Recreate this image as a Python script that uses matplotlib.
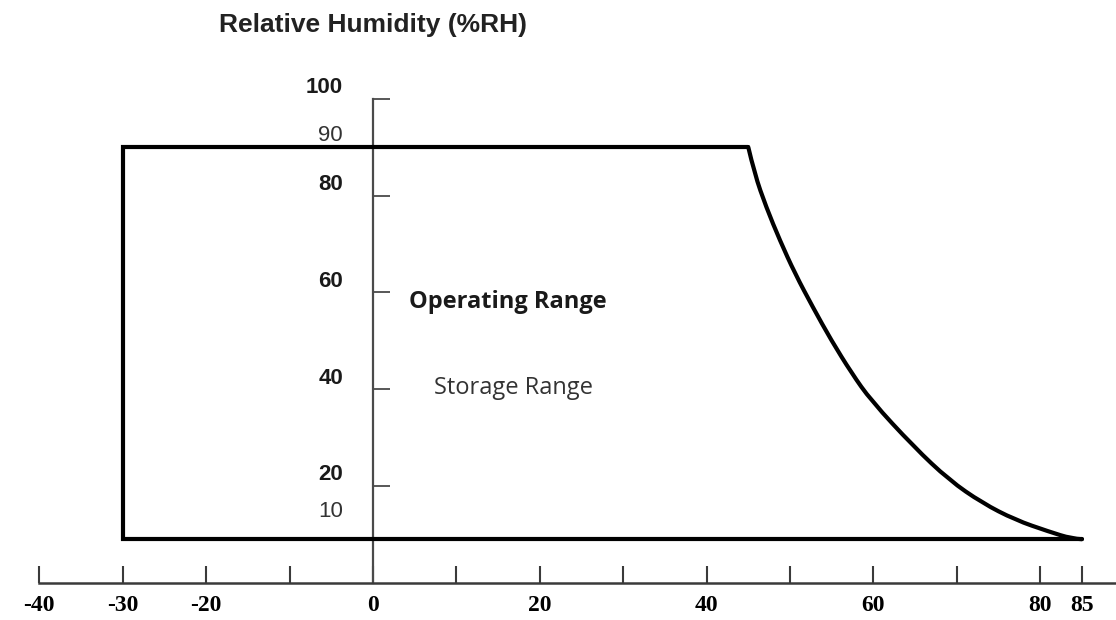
import matplotlib
matplotlib.use("Agg")
import matplotlib.pyplot as plt
import matplotlib.transforms as mtransforms
from matplotlib.path import Path
from matplotlib.patches import PathPatch

# ---- data ----
x_ticks = [-40, -30, -20, -10, 0, 10, 20, 30, 40, 50, 60, 70, 80, 85]
x_tick_labels = ["-40", "-30", "-20", "", "0", "", "20", "", "40", "", "60", "", "80", "85"]
y_ticks = [20, 40, 60, 80, 100]
y_tick_labels = ["20", "40", "60", "80", "100"]
y_minor_ticks = [10, 90]
y_minor_labels = ["10", "90"]

# operating/storage envelope (temperature degC, %RH)
box_temp = [45, -30, -30, 85]
box_rh = [90, 90, 9, 9]
curve_temp = [45, 45.75, 47.15, 48.8, 50.6, 52.75, 54.95, 57.4, 59.7,
              64.85, 69.1, 73.05, 77.0, 81.0, 83.8, 85]
curve_rh = [90, 84.5, 77.6, 70.7, 63.9, 56.9, 50.1, 43.3, 37.7,
            28.1, 21.2, 16.5, 13.0, 10.6, 9.1, 9]

plt.rcParams['axes.unicode_minus'] = False

fig = plt.figure(figsize=(11.16, 6.2), dpi=100)
ax = fig.add_axes([0, 0, 1, 1])
ax.set_xlim(-44.72, 89.09)
ax.set_ylim(-7.69, 120.4)

# straight sides of the envelope
ax.plot(box_temp, box_rh, color="black", lw=3.0, solid_joinstyle="miter",
        solid_capstyle="round", zorder=3)

# smooth curved side (quadratic Bezier through the read points)
pts = list(zip(curve_temp, curve_rh))
verts = [pts[0]]
codes = [Path.MOVETO]
for i in range(1, len(pts) - 1):
    nxt = pts[i + 1] if i == len(pts) - 2 else (
        (pts[i][0] + pts[i + 1][0]) / 2, (pts[i][1] + pts[i + 1][1]) / 2)
    verts += [pts[i], nxt]
    codes += [Path.CURVE3, Path.CURVE3]
ax.add_patch(PathPatch(Path(verts, codes), fill=False, edgecolor="black",
                       lw=3.0, capstyle="round", zorder=3))

# axes / spines
for s in ["top", "right"]:
    ax.spines[s].set_visible(False)
ax.spines["left"].set_position(("data", 0))
ax.spines["bottom"].set_position(("data", 0))
ax.spines["left"].set_bounds(0, 100)
ax.spines["bottom"].set_bounds(-40, 89.1)
ax.spines["left"].set_color("#4a4a4a")
ax.spines["bottom"].set_color("#3a3a3a")
ax.spines["left"].set_linewidth(1.6)
ax.spines["bottom"].set_linewidth(1.8)
ax.patch.set_visible(False)

ax.set_xticks(x_ticks)
ax.set_xticklabels(x_tick_labels, fontfamily="Liberation Serif",
                   fontweight="bold", fontsize=17)
ax.tick_params(axis="x", direction="in", length=12, width=1.5,
               color="#3a3a3a", pad=9)

ax.set_yticks(y_ticks)
ax.set_yticklabels(y_tick_labels, fontfamily="Liberation Sans",
                   fontweight="bold", fontsize=16, color="#1a1a1a")
ax.set_yticks(y_minor_ticks, minor=True)
ax.set_yticklabels(y_minor_labels, minor=True, fontfamily="Liberation Sans",
                   fontsize=16, color="#333333")
ax.tick_params(axis="y", which="major", direction="in", length=12, width=1.3,
               color="#4a4a4a", pad=21.6)
ax.tick_params(axis="y", which="minor", direction="in", length=0, pad=21.6)

fig.canvas.draw()
for lab in ax.get_yticklabels(which="major"):
    lab.set_transform(lab.get_transform() +
                      mtransforms.ScaledTranslation(0, 13.5 / 100, fig.dpi_scale_trans))
for lab in ax.get_yticklabels(which="minor"):
    dy = 25 if lab.get_text() == "10" else 14
    lab.set_transform(lab.get_transform() +
                      mtransforms.ScaledTranslation(0, dy / 100, fig.dpi_scale_trans))

# texts
ax.text(0, 115.2, "Relative Humidity (%RH)", ha="center", va="center",
        fontfamily="Liberation Sans", fontweight="bold", fontsize=19,
        color="#222222")
ax.text(16.2, 58.0, "Operating Range", ha="center", va="center",
        fontfamily="Open Sans", fontweight="bold", fontsize=17, color="#1a1a1a")
ax.text(16.9, 40.2, "Storage Range", ha="center", va="center",
        fontfamily="Open Sans", fontsize=17, color="#333333")

fig.savefig("out.png", dpi=100)
